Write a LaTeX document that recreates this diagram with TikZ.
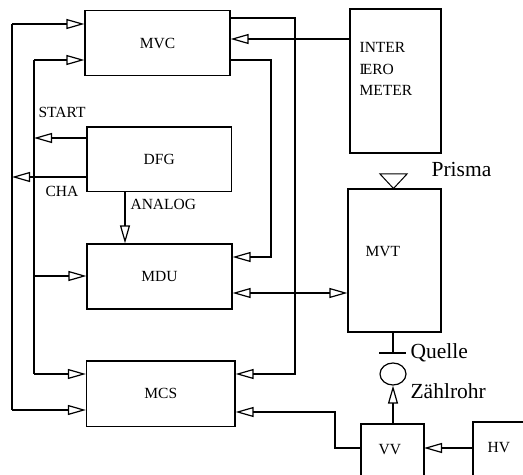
\documentclass[tikz,border=0pt]{standalone}
\usepackage{fontspec}
\setmainfont{Liberation Serif}
\usetikzlibrary{arrows.meta,shapes.geometric}
\begin{document}
\begin{tikzpicture}[x=1bp,y=-1bp,line width=1.2bp,
  box/.style={draw,rectangle,inner sep=0pt,font=\fontsize{15.5bp}{18bp}\selectfont},
  lbl/.style={inner sep=0pt,anchor=base west,font=\fontsize{15.5bp}{18bp}\selectfont},
  biglbl/.style={inner sep=0pt,anchor=base west,font=\fontsize{21.5bp}{24bp}\selectfont},
  arr/.style={-{Triangle[open,length=18bp,width=10bp,line width=1.2bp]}},
  darr/.style={{Triangle[open,length=18bp,width=10bp,line width=1.2bp]}-{Triangle[open,length=18bp,width=10bp,line width=1.2bp]}}]
\useasboundingbox (0,0) rectangle (523,475);
% boxes
\node[box,minimum width=145bp,minimum height=65bp] (mvc) at (157.5,43) {MVC};
\node[box,minimum width=144.5bp,minimum height=64.5bp] (dfg) at (159.25,159.25) {DFG};
\node[box,minimum width=145bp,minimum height=65bp] (mdu) at (159.5,276.5) {MDU};
\node[box,minimum width=148.5bp,minimum height=65.5bp] (mcs) at (160.75,393.75) {MCS};
\node[draw,rectangle,minimum width=91bp,minimum height=144bp] (ifm) at (395.5,81) {};
\node[draw,rectangle,minimum width=93bp,minimum height=143bp] (mvt) at (394.5,260.5) {};
\node[lbl] (ifmt) at (359,53) {INTER};
\node[lbl] (ifmt2) at (359,74.5) {I\kern-0.12em ERO};
\node[lbl] (ifmt3) at (359,96) {METER};
\node[lbl] (mvtt) at (365,256.5) {MVT};
\node[lbl] (start) at (38,118) {START};
\node[lbl] (cha) at (45,197) {CHA};
\node[lbl] (analog) at (130,210) {ANALOG};
\node[biglbl] (prisma) at (431,177) {Prisma};
\node[biglbl] (quelle) at (410,358) {Quelle};
\node[biglbl] (zr) at (410,398) {Zählrohr};
% open-bottom boxes VV and HV
\coordinate (vvtl) at (361,424);
\coordinate (vvtr) at (424,424);
\draw (361,480) -- (vvtl) -- (vvtr) -- (424,480);
\node[lbl] (vvt) at (378,454) {VV};
\coordinate (hvtl) at (473,422);
\draw (473,480) -- (hvtl) -- (530,422);
\node[lbl] (hvt) at (487,452) {HV};
% prisma triangle
\draw[line width=1bp] (380,174) -- (407,174) -- (393.5,188.5) -- cycle;
% buses
\coordinate (o1) at (12,24);
\coordinate (o2) at (12,410);
\coordinate (i1) at (34,60);
\coordinate (i2) at (34,374);
\draw (o1) -- (o2);
\draw (i1) -- (i2);
\draw[arr] (o1) -- (mvc.west |- o1);
\draw[arr] (i1) -- (mvc.west |- i1);
\draw[arr] (o2) -- (mcs.west |- o2);
\draw[arr] (i2) -- (mcs.west |- i2);
\coordinate (mduin) at (34,276);
\draw[arr] (mduin) -- (mdu.west |- mduin);
% DFG outputs
\coordinate (st) at (34,138);
\coordinate (ch) at (12,177);
\draw[arr] (dfg.west |- st) -- (st);
\draw[arr] (dfg.west |- ch) -- (ch);
\coordinate (an) at (125,191.5);
\draw[arr] (an) -- (an |- mdu.north);
% right side routes
\coordinate (r1) at (295,18);
\coordinate (r1b) at (295,374);
\draw[arr] (mvc.east |- r1) -- (r1) -- (r1b) -- (mcs.east |- r1b);
\coordinate (r2) at (271,60);
\coordinate (r2b) at (271,257);
\draw[arr] (mvc.east |- r2) -- (r2) -- (r2b) -- (mdu.east |- r2b);
\coordinate (ifin) at (350,39);
\draw[arr] (ifm.west |- ifin) -- (mvc.east |- ifin);
\coordinate (mm) at (300,293);
\draw[darr] (mdu.east |- mm) -- (mvt.west |- mm);
% Quelle, Zaehlrohr
\coordinate (q) at (393,353);
\draw (mvt.south -| q) -- (q);
\draw (379,353) -- (406,353);
\node[draw,ellipse,minimum width=26bp,minimum height=22bp,inner sep=0pt] (zc) at (393,374) {};
\draw[arr] (vvtl -| zc) -- (zc.south);
% HV to VV, VV to MCS
\coordinate (hv) at (473,448);
\draw[arr] (hv) -- (vvtr |- hv);
\coordinate (v1) at (335,448);
\coordinate (v2) at (335,412);
\draw[arr] (vvtl |- v1) -- (v1) -- (v2) -- (mcs.east |- v2);
\end{tikzpicture}
\end{document}
